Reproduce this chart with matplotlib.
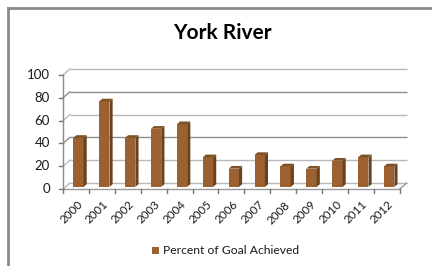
import matplotlib
matplotlib.use("Agg")
import matplotlib.pyplot as plt
from matplotlib.patches import Polygon, Rectangle
import numpy as np

years = ["2000", "2001", "2002", "2003", "2004", "2005", "2006",
         "2007", "2008", "2009", "2010", "2011", "2012"]
values = [43, 75, 43, 51, 55, 26, 16, 28, 18, 16, 23, 26, 18]
yticks = [0, 20, 40, 60, 80, 100]
series_name = "Percent of Goal Achieved"
title = "York River"

W, H = 432, 266
fig = plt.figure(figsize=(W / 100, H / 100), dpi=100)
fig.patch.set_facecolor("white")

# outer chart border (left & top visible)
fig.add_artist(plt.Line2D([7.5 / W, 7.5 / W], [0, 1 - 7.5 / H],
                          transform=fig.transFigure, color="#8a8a8a", lw=2))
fig.add_artist(plt.Line2D([7.5 / W, 1], [1 - 7.5 / H, 1 - 7.5 / H],
                          transform=fig.transFigure, color="#8a8a8a", lw=2))

n = len(years)
px_per_cat = 25.9
px_per_val = 1.14
dx_px, dy_px = 7.0, 6.0
dx = dx_px / px_per_cat
dy = dy_px / px_per_val

x0_px, y0_px = 63, 189
xmin, xmax = -0.5, n - 0.5 + dx
ymin, ymax = 0, 100 + dy
ax_w = (xmax - xmin) * px_per_cat
ax_h = (ymax - ymin) * px_per_val
ax = fig.add_axes([x0_px / W, (H - y0_px) / H, ax_w / W, ax_h / H])
ax.set_xlim(xmin, xmax)
ax.set_ylim(ymin, ymax)
ax.axis("off")

grid_dark = "#8c8c8c"
grid_light = "#b8b8b8"
# back wall gridlines + side wall diagonals
for v in yticks:
    c = grid_dark if v in (40, 80) else grid_light
    ax.plot([-0.5 + dx, n - 0.5 + dx], [v + dy, v + dy], color=c, lw=1,
            solid_capstyle="butt", clip_on=False, zorder=1)
    ax.plot([-0.5, -0.5 + dx], [v, v + dy], color=c, lw=1, clip_on=False, zorder=1)
    # y tick
    ax.plot([-0.5 - 4 / px_per_cat, -0.5], [v, v], color="#777777", lw=1,
            clip_on=False, zorder=3)
    ax.text(-0.5 - 13 / px_per_cat, v, str(v), ha="right", va="center",
            fontsize=9.5, family="Lato", color="#1a1a1a")

# floor front edge & right diagonal
ax.plot([-0.5, n - 0.5], [0, 0], color="#9a9a9a", lw=1, zorder=2, clip_on=False)
ax.plot([n - 0.5, n - 0.5 + dx], [0, dy], color="#9a9a9a", lw=1, zorder=2, clip_on=False)
# y axis line
ax.plot([-0.5, -0.5], [0, 100], color="#8a8a8a", lw=1, zorder=3, clip_on=False)
# x ticks
for i in range(n + 1):
    ax.plot([i - 0.5, i - 0.5], [0, -4 / px_per_val], color="#777777", lw=1,
            clip_on=False, zorder=3)

# bars (pseudo 3D)
bw = 0.4
ox, oy = dx * 0.35, dy * 0.35
sx, sy = dx * 0.45, dy * 0.45
front_c = "#9b6130"
side_c = "#6a421d"
top_c = "#7d5226"
xs = np.arange(n)
ax.bar(xs + ox, values, width=bw, bottom=oy, color=front_c, zorder=4,
       linewidth=0)
for i, v in enumerate(values):
    l = i + ox - bw / 2
    r = i + ox + bw / 2
    b = oy
    t = oy + v
    ax.add_patch(Polygon([[r, b], [r + sx, b + sy], [r + sx, t + sy], [r, t]],
                         closed=True, facecolor=side_c, edgecolor="none", zorder=4))
    ax.add_patch(Polygon([[l, t], [r, t], [r + sx, t + sy], [l + sx, t + sy]],
                         closed=True, facecolor=top_c, edgecolor="none", zorder=4))

# x labels
for i, yr in enumerate(years):
    ax.text(i + 0.03, -10 / px_per_val, yr, rotation=45, ha="right", va="top",
            rotation_mode="anchor", fontsize=8.4, family="Lato", color="#1a1a1a")

# title
fig.text(222 / W, 1 - 33 / H, title, ha="center", va="center",
         fontsize=15, fontweight="bold", family="Lato", color="black")

# legend
fig.add_artist(Rectangle((152 / W, 1 - 254 / H), 7 / W, 7 / H,
                         transform=fig.transFigure, facecolor=front_c,
                         edgecolor="none"))
fig.text(163 / W, 1 - 250.5 / H, series_name, ha="left", va="center",
         fontsize=8.7, family="Lato", color="#1a1a1a")

fig.savefig("out.png", dpi=100, facecolor="white")
